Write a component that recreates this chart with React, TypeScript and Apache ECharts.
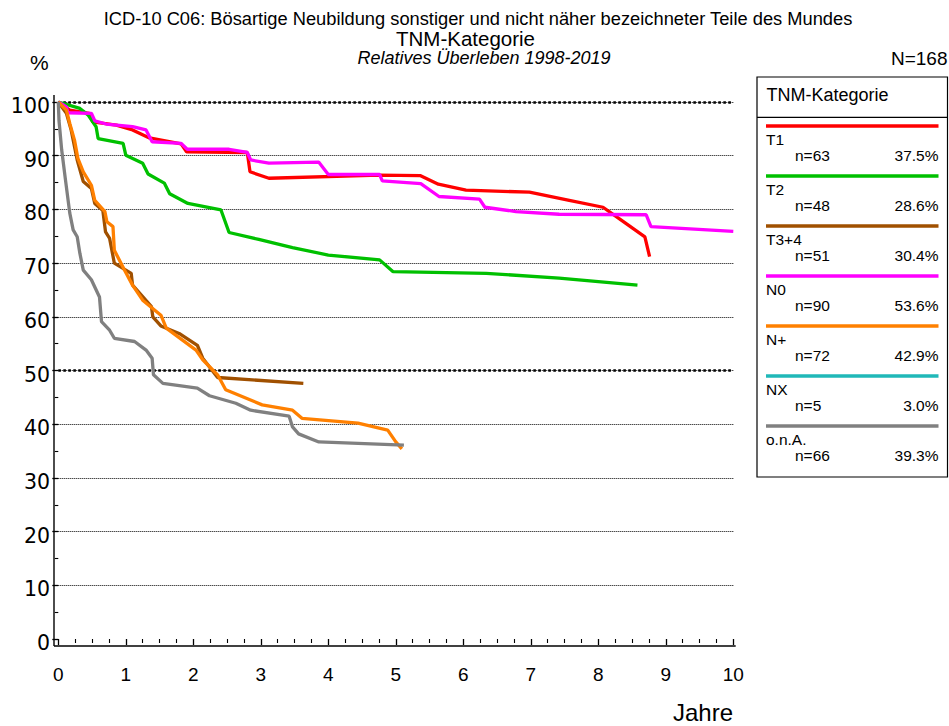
import React, { useEffect, useRef } from "react";
import * as echarts from "echarts";

const titleLine1 = "ICD-10 C06: Bösartige Neubildung sonstiger und nicht näher bezeichneter Teile des Mundes";
const titleLine2 = "TNM-Kategorie";
const titleLine3 = "Relatives Überleben 1998-2019";
const totalLabel = "N=168";
const yUnit = "%";
const xName = "Jahre";
const legendTitle = "TNM-Kategorie";

const seriesNames = ["T1", "T2", "T3+4", "N0", "N+", "NX", "o.n.A."];
const seriesColors = ["#ff0000", "#00c000", "#a05000", "#ff00ff", "#ff8000", "#20b8b8", "#808080"];
const nCounts = [63, 48, 51, 90, 72, 5, 66];
const nPercents = ["37.5%", "28.6%", "30.4%", "53.6%", "42.9%", "3.0%", "39.3%"];

const t1Data = [
  [0, 100], [0.17, 98.5], [0.46, 97.9], [0.51, 96.3], [0.86, 95.7], [1.1, 94.8], [1.35, 93.3],
  [1.82, 92.2], [1.9, 90.7], [2.8, 90.6], [2.84, 87.0], [3.12, 85.8], [4.75, 86.4], [5.36, 86.3],
  [5.63, 84.7], [6.04, 83.6], [6.98, 83.2], [7.57, 81.7], [8.07, 80.4], [8.34, 78.0], [8.69, 74.9], [8.76, 71.2],
];
const t2Data = [
  [0, 100], [0.32, 98.8], [0.44, 97.6], [0.56, 95.4], [0.59, 93.2], [0.96, 92.3], [1.0, 90.1],
  [1.25, 88.6], [1.33, 86.6], [1.57, 84.9], [1.65, 82.9], [1.92, 81.1], [2.41, 79.9], [2.53, 75.7],
  [2.97, 74.4], [3.47, 72.9], [4.0, 71.5], [4.76, 70.6], [4.96, 68.4], [6.34, 68.1], [7.42, 67.2], [8.58, 65.9],
];
const t34Data = [
  [0, 100], [0.12, 97.9], [0.19, 94.8], [0.28, 89.2], [0.37, 85.2], [0.49, 83.9], [0.54, 81.1],
  [0.66, 79.8], [0.7, 75.8], [0.76, 74.6], [0.83, 70.0], [1.08, 68.1], [1.1, 65.9], [1.38, 61.9],
  [1.4, 60.0], [1.52, 58.3], [1.79, 56.9], [2.06, 54.7], [2.14, 52.3], [2.36, 48.7], [3.63, 47.6],
];
const n0Data = [
  [0, 100], [0.12, 99.1], [0.14, 98.0], [0.49, 97.9], [0.54, 96.5], [0.71, 95.9], [1.1, 95.4],
  [1.3, 94.8], [1.39, 92.6], [1.82, 92.3], [1.91, 91.2], [2.53, 91.2], [2.8, 90.6], [2.85, 89.2],
  [3.12, 88.6], [3.86, 88.8], [4.0, 86.5], [4.76, 86.5], [4.8, 85.3], [5.37, 84.8], [5.64, 82.4],
  [6.24, 81.9], [6.32, 80.4], [6.78, 79.6], [7.42, 79.1], [8.71, 79.0], [8.78, 76.8], [10.0, 75.9],
];
const nPlusData = [
  [0, 100], [0.12, 98.5], [0.17, 96.0], [0.24, 92.9], [0.29, 89.5], [0.37, 87.0], [0.49, 84.5],
  [0.54, 81.7], [0.69, 79.6], [0.72, 77.7], [0.81, 76.8], [0.83, 72.4], [0.98, 68.7], [1.1, 65.9],
  [1.25, 63.1], [1.52, 60.3], [1.6, 57.9], [2.04, 53.8], [2.14, 52.0], [2.36, 49.2], [2.48, 46.4],
  [3.02, 43.6], [3.47, 42.6], [3.61, 41.1], [4.44, 40.2], [4.88, 38.9], [5.0, 36.7], [5.09, 35.4],
];
const nxData: number[][] = [];
const onaData = [
  [0, 100], [0.01, 96.6], [0.05, 91.1], [0.1, 86.1], [0.17, 79.3], [0.22, 76.2], [0.28, 74.9],
  [0.32, 71.8], [0.37, 68.7], [0.49, 66.9], [0.61, 63.7], [0.64, 59.1], [0.76, 57.5], [0.83, 56.0],
  [1.13, 55.4], [1.3, 53.8], [1.39, 52.3], [1.41, 49.2], [1.55, 47.6], [2.06, 46.7], [2.24, 45.3],
  [2.63, 43.9], [2.85, 42.6], [3.42, 41.5], [3.47, 39.5], [3.56, 38.2], [3.86, 36.7], [5.12, 36.1],
];
const allData = [t1Data, t2Data, t34Data, n0Data, nPlusData, nxData, onaData];
const boldGridValues = [100, 50];

const FONT = "'Liberation Sans', Arial, Helvetica, sans-serif";

export default function App() {
  const ref = useRef<HTMLDivElement>(null);
  useEffect(() => {
    if (!ref.current) return;
    const chart = echarts.init(ref.current, null, { renderer: "svg" });

    const gridLeft = 58.3;
    const gridRight = 949 - 733.3;
    const gridTop = 102;
    const gridBottom = 726 - 639;
    const labelShift = 4;

    const legendX = 757;
    const legendY = 77;
    const legendW = 190.5;
    const legendH = 400;
    const entryTop = 126;
    const entryStep = 50;

    const legendEls: any[] = [
      { type: "rect", shape: { x: legendX, y: legendY, width: legendW, height: legendH }, style: { fill: "#fff", stroke: "#000", lineWidth: 1.2 } },
      { type: "line", shape: { x1: legendX, y1: 117.3, x2: legendX + legendW, y2: 117.3 }, style: { stroke: "#000", lineWidth: 1.2 } },
      { type: "text", x: 766.5, y: 94.5, style: { text: legendTitle, font: `18px ${FONT}`, fill: "#000", textAlign: "left", textVerticalAlign: "middle" } },
    ];
    seriesNames.forEach((name, i) => {
      const ly = entryTop + entryStep * i;
      legendEls.push(
        { type: "line", shape: { x1: 766, y1: ly, x2: 938.5, y2: ly }, style: { stroke: seriesColors[i], lineWidth: 3.5 } },
        { type: "text", x: 766, y: ly + 13.8, style: { text: name, font: `15.5px ${FONT}`, fill: "#000", textAlign: "left", textVerticalAlign: "middle" } },
        { type: "text", x: 795, y: ly + 29.3, style: { text: `n=${nCounts[i]}`, font: `15.5px ${FONT}`, fill: "#000", textAlign: "left", textVerticalAlign: "middle" } },
        { type: "text", x: 938.5, y: ly + 29.3, style: { text: nPercents[i], font: `15.5px ${FONT}`, fill: "#000", textAlign: "right", textVerticalAlign: "middle" } },
      );
    });

    const series: any[] = seriesNames.map((name, i) => ({
      name,
      type: "line",
      xAxisIndex: 0,
      yAxisIndex: 0,
      data: allData[i],
      showSymbol: false,
      symbol: "none",
      lineStyle: { color: seriesColors[i], width: 3.3 },
      itemStyle: { color: seriesColors[i] },
      z: 3 + i,
      ...(i === 0
        ? {
            markLine: {
              silent: true,
              symbol: ["none", "none"],
              label: { show: false },
              z: 1,
              lineStyle: { color: "#000", type: [2.6, 2.4], width: 2.6 },
              data: boldGridValues.map((v) => ({ yAxis: v })),
            },
          }
        : {}),
    }));

    chart.setOption({
      animation: false,
      backgroundColor: "#fff",
      grid: [
        { left: gridLeft, right: gridRight, top: gridTop, bottom: gridBottom, containLabel: false },
        { left: gridLeft, right: gridRight, top: gridTop + labelShift, bottom: gridBottom - labelShift, containLabel: false },
      ],
      xAxis: [
        {
          type: "value",
          gridIndex: 0,
          min: 0,
          max: 10,
          interval: 1,
          offset: 7.5,
          axisLine: { show: false },
          axisTick: { show: true, length: 6, lineStyle: { color: "#000", width: 1.3 } },
          minorTick: { show: true, splitNumber: 4, length: 4, lineStyle: { color: "#000", width: 1.1 } },
          axisLabel: { color: "#000", fontSize: 19, fontFamily: FONT, margin: 18 },
          splitLine: { show: false },
        },
        {
          type: "value",
          gridIndex: 1,
          min: 0,
          max: 10,
          interval: 1,
          show: false,
        },
      ],
      yAxis: [
        {
          type: "value",
          gridIndex: 0,
          min: 0,
          max: 100,
          interval: 10,
          offset: 4.3,
          axisLine: { show: false },
          axisTick: { show: true, length: 6, lineStyle: { color: "#000", width: 1.3 } },
          minorTick: { show: true, splitNumber: 2, length: 3.5, lineStyle: { color: "#000", width: 1.1 } },
          axisLabel: { show: false },
          splitLine: { show: true, showMinLine: false, lineStyle: { color: "#000", type: [1, 1], width: 1 } },
        },
        {
          type: "value",
          gridIndex: 1,
          min: 0,
          max: 100,
          interval: 10,
          offset: 4.3,
          axisLine: { show: false },
          axisTick: { show: false },
          axisLabel: { color: "#000", fontSize: 20.5, fontFamily: "'DejaVu Sans', sans-serif", margin: 4 },
          splitLine: { show: false },
        },
      ],
      series,
      graphic: [
        { type: "line", shape: { x1: 54, y1: 95, x2: 54, y2: 646 }, style: { stroke: "#000", lineWidth: 1.4 } },
        { type: "line", shape: { x1: 54, y1: 646, x2: 735.7, y2: 646 }, style: { stroke: "#000", lineWidth: 1.4 } },
        { type: "text", x: 478, y: 18, style: { text: titleLine1, font: `18.3px ${FONT}`, fill: "#000", textAlign: "center", textVerticalAlign: "middle" } },
        { type: "text", x: 465.5, y: 38, style: { text: titleLine2, font: `20.5px ${FONT}`, fill: "#000", textAlign: "center", textVerticalAlign: "middle" } },
        { type: "text", x: 484, y: 58.3, style: { text: titleLine3, font: `italic 18px ${FONT}`, fill: "#000", textAlign: "center", textVerticalAlign: "middle" } },
        { type: "text", x: 947.5, y: 58.3, style: { text: totalLabel, font: `19px ${FONT}`, fill: "#000", textAlign: "right", textVerticalAlign: "middle" } },
        { type: "text", x: 30, y: 62, style: { text: yUnit, font: `21px ${FONT}`, fill: "#000", textAlign: "left", textVerticalAlign: "middle" } },
        { type: "text", x: 733, y: 712, style: { text: xName, font: `24px ${FONT}`, fill: "#000", textAlign: "right", textVerticalAlign: "middle" } },
        ...legendEls,
      ],
    });
    return () => chart.dispose();
  }, []);
  return <div ref={ref} style={{ position: "fixed", left: 0, top: 0, width: 949, height: 726, background: "#fff" }} />;
}
